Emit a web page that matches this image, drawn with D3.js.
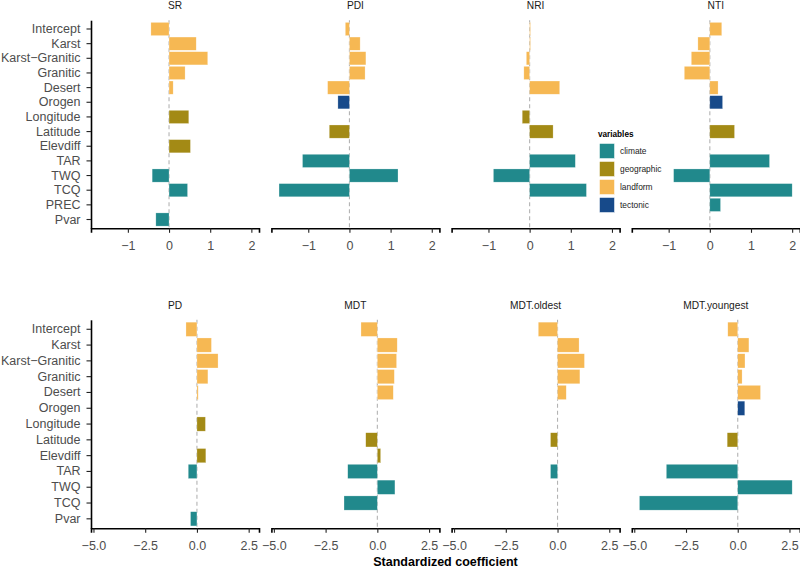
<!DOCTYPE html>
<html><head><meta charset="utf-8">
<script src="https://cdn.jsdelivr.net/npm/d3@7"></script>
<style>body{margin:0;background:#fff}svg{display:block;font-family:"Liberation Sans",Arial,sans-serif}</style>
</head><body><svg id="c" width="800" height="572"></svg>
<script>
const varsTop = ["Intercept","Karst","Karst−Granitic","Granitic","Desert","Orogen","Longitude","Latitude","Elevdiff","TAR","TWQ","TCQ","PREC","Pvar"];
const varsBottom = ["Intercept","Karst","Karst−Granitic","Granitic","Desert","Orogen","Longitude","Latitude","Elevdiff","TAR","TWQ","TCQ","Pvar"];
const varGroup = {"Intercept":"landform","Karst":"landform","Karst−Granitic":"landform","Granitic":"landform","Desert":"landform","Orogen":"tectonic","Longitude":"geographic","Latitude":"geographic","Elevdiff":"geographic","TAR":"climate","TWQ":"climate","TCQ":"climate","PREC":"climate","Pvar":"climate"};
const groups = ["climate","geographic","landform","tectonic"];
const groupColors = ["#21898c","#a38a15","#f6b853","#174a8a"];

const panelsTop = ["SR","PDI","NRI","NTI"];
const panelsBottom = ["PD","MDT","MDT.oldest","MDT.youngest"];
// values in order of varsTop
const SR  = [-0.44,0.66,0.94,0.39,0.10,null,0.48,null,0.52,null,-0.41,0.45,null,-0.32];
const PDI = [-0.10,0.26,0.40,0.38,-0.53,-0.28,null,-0.49,null,-1.14,1.18,-1.71,null,null];
const NRI = [0.02,0.02,-0.08,-0.14,0.73,null,-0.18,0.57,null,1.11,-0.88,1.38,null,null];
const NTI = [0.29,-0.29,-0.45,-0.62,0.20,0.31,null,0.60,null,1.45,-0.88,2.00,0.26,null];
// values in order of varsBottom
const PD   = [-0.53,0.70,1.02,0.53,0.06,null,0.41,null,0.43,-0.42,null,null,-0.31];
const MDT  = [-0.79,0.96,0.93,0.82,0.77,null,null,-0.56,0.16,-1.43,0.85,-1.61,null];
const MDToldest   = [-0.93,1.04,1.30,1.08,0.42,null,null,-0.34,null,-0.34,null,null,null];
const MDTyoungest = [-0.48,0.54,0.35,0.21,1.10,0.34,null,-0.51,null,-3.45,2.63,-4.75,null];
const ticksTop = [-1,0,1,2];
const ticksBottom = [-5,-2.5,0,2.5];

const svg = d3.select("#c");
const color = d3.scaleOrdinal().domain(groups).range(groupColors);
const panelX0 = [91, 271.4, 451.6, 631.8];
const panelW = 168;
const FONT = "Liberation Sans, Arial, sans-serif";

function row(names, seriesList, vars, yTop, yBot, ticks, fmt) {
  const all = seriesList.flat().filter(v => v != null);
  const lo = d3.min(all), hi = d3.max(all), pad = (hi - lo) * 0.05;
  const y = d3.scaleBand().domain(vars).range([yTop, yBot]).paddingInner(0.1).paddingOuter(0.15);
  names.forEach((name, i) => {
    const x = d3.scaleLinear().domain([lo - pad, hi + pad]).range([panelX0[i], panelX0[i] + panelW]);
    const g = svg.append("g");
    g.append("line").attr("x1", x(0)).attr("x2", x(0)).attr("y1", yTop).attr("y2", yBot)
      .attr("stroke", "#b3b3b3").attr("stroke-width", 1.1).attr("stroke-dasharray", "4,3");
    const data = vars.map((v, k) => ({v, val: seriesList[i][k]})).filter(d => d.val != null);
    g.selectAll("rect").data(data).join("rect")
      .attr("x", d => x(Math.min(0, d.val)))
      .attr("width", d => Math.abs(x(d.val) - x(0)))
      .attr("y", d => y(d.v)).attr("height", y.bandwidth())
      .attr("fill", d => color(varGroup[d.v]))
      .attr("stroke", "#ffffff").attr("stroke-opacity", 0.5).attr("stroke-width", 0.5);
    const ax = g.append("g").attr("transform", `translate(0,${yBot})`)
      .call(d3.axisBottom(x).tickValues(ticks).tickFormat(fmt).tickSizeOuter(0).tickSize(4.5).tickPadding(8));
    ax.attr("font-size", 12.5).attr("font-family", FONT);
    ax.select(".domain").attr("stroke", "#000").attr("stroke-width", 1.6);
    ax.selectAll(".tick line").attr("stroke", "#222").attr("stroke-width", 1.1);
    ax.selectAll("text").attr("fill", "#4d4d4d");
    g.append("text").attr("x", panelX0[i] + panelW / 2).attr("y", yTop - 11)
      .attr("text-anchor", "middle").attr("font-size", 10.2).attr("fill", "#1a1a1a").text(name);
    if (i === 0) {
      const ay = g.append("g").attr("transform", `translate(${panelX0[0]},0)`)
        .call(d3.axisLeft(y).tickSize(4.5).tickSizeOuter(0).tickPadding(6));
      ay.attr("font-size", 12.5).attr("font-family", FONT);
      ay.select(".domain").attr("stroke", "#000").attr("stroke-width", 1.6);
      ay.selectAll(".tick line").attr("stroke", "#222").attr("stroke-width", 1.1);
      ay.selectAll("text").attr("fill", "#4d4d4d");
    }
  });
}

const fmtTop = d => d3.format("d")(d).replace("-", "−");
const fmtBot = d => d3.format(".1f")(d).replace("-", "−");
row(panelsTop, [SR, PDI, NRI, NTI], varsTop, 20.2, 228.3, ticksTop, fmtTop);
row(panelsBottom, [PD, MDT, MDToldest, MDTyoungest], varsBottom, 319.8, 528.3, ticksBottom, fmtBot);

svg.append("text").attr("x", 445.5).attr("y", 566).attr("text-anchor", "middle")
  .attr("font-size", 12.5).attr("font-weight", "bold").attr("fill", "#000").text("Standardized coefficient");

const lg = svg.append("g");
lg.append("text").attr("x", 598).attr("y", 137).attr("font-size", 8.2).attr("font-weight", "bold").attr("fill", "#000").text("variables");
groups.forEach((gname, k) => {
  lg.append("rect").attr("x", 599.5).attr("y", 143.5 + k * 18).attr("width", 15).attr("height", 15)
    .attr("fill", color(gname)).attr("stroke", "#fff").attr("stroke-width", 0.5);
  lg.append("text").attr("x", 620).attr("y", 151 + k * 18).attr("dy", "0.35em")
    .attr("font-size", 8.4).attr("fill", "#1a1a1a").text(gname);
});
</script></body></html>
